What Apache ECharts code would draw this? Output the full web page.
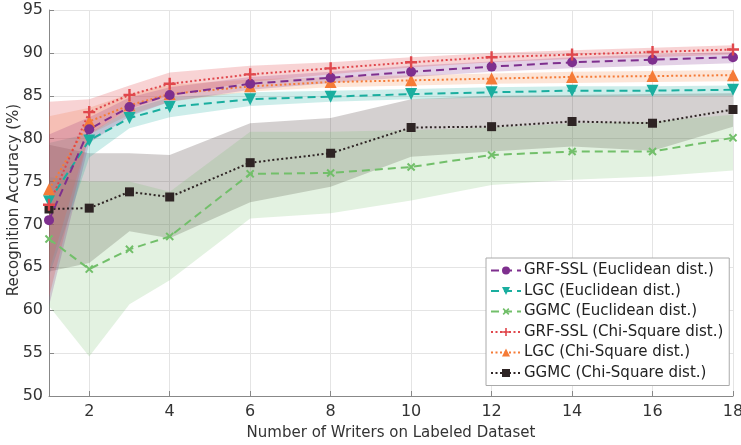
<!DOCTYPE html>
<html>
<head>
<meta charset="utf-8">
<script src="https://cdn.jsdelivr.net/npm/echarts@6/dist/echarts.min.js"></script>
<style>
  html, body { margin: 0; padding: 0; background: #fff; }
  #chart { width: 741px; height: 445px; }
</style>
</head>
<body>
<div id="chart"></div>
<script>
// number of writers (x)
const writers = [1, 2, 3, 4, 6, 8, 10, 12, 14, 16, 18];
const xTicks = [2, 4, 6, 8, 10, 12, 14, 16, 18];

const xTitle = 'Number of Writers on Labeled Dataset';
const yTitle = 'Recognition Accuracy (%)';

const names = [
    'GRF-SSL (Euclidean dist.)',
    'LGC (Euclidean dist.)',
    'GGMC (Euclidean dist.)',
    'GRF-SSL (Chi-Square dist.)',
    'LGC (Chi-Square dist.)',
    'GGMC (Chi-Square dist.)'
];

// mean accuracy
const grfEuc  = [70.5, 81.1, 83.7, 85.1, 86.4, 87.1, 87.8, 88.4, 88.9, 89.2, 89.5];
const lgcEuc  = [72.7, 79.8, 82.4, 83.7, 84.6, 84.9, 85.2, 85.4, 85.6, 85.6, 85.7];
const ggmcEuc = [68.3, 64.8, 67.1, 68.6, 75.9, 76.0, 76.7, 78.1, 78.5, 78.5, 80.1];
const grfChi  = [72.3, 83.1, 85.1, 86.4, 87.5, 88.2, 88.9, 89.5, 89.8, 90.1, 90.4];
const lgcChi  = [74.1, 82.0, 83.9, 85.2, 86.1, 86.6, 86.8, 87.0, 87.2, 87.3, 87.4];
const ggmcChi = [71.8, 71.9, 73.8, 73.2, 77.2, 78.3, 81.3, 81.4, 82.0, 81.8, 83.4];

// shaded bands (lower / upper)
const grfEucLo  = [60.5, 79.5, 82.6, 84.3, 85.7, 86.5, 87.2, 87.8, 88.2, 88.5, 88.8];
const grfEucHi  = [80.5, 82.5, 84.8, 86.0, 87.2, 87.8, 88.5, 89.0, 89.5, 89.8, 90.1];
const lgcEucLo  = [64.0, 77.8, 81.2, 82.5, 83.8, 84.3, 84.6, 84.8, 84.9, 85.0, 85.0];
const lgcEucHi  = [79.5, 80.6, 83.4, 84.8, 85.4, 85.6, 85.8, 86.0, 86.1, 86.1, 86.2];
const ggmcEucLo = [60.5, 54.6, 60.7, 63.5, 70.7, 71.3, 72.8, 74.6, 75.2, 75.6, 76.3];
const ggmcEucHi = [75.5, 75.0, 75.0, 73.8, 80.8, 80.8, 81.0, 81.3, 81.8, 82.0, 82.8];
const grfChiLo  = [61.5, 80.5, 83.5, 85.0, 86.6, 87.5, 88.3, 88.9, 89.3, 89.5, 89.8];
const grfChiHi  = [84.3, 84.6, 86.2, 87.7, 88.5, 88.9, 89.5, 90.0, 90.3, 90.6, 90.9];
const lgcChiLo  = [64.5, 80.5, 82.8, 84.3, 85.5, 86.0, 86.2, 86.4, 86.5, 86.6, 86.7];
const lgcChiHi  = [82.6, 83.6, 85.2, 86.3, 86.9, 87.2, 87.4, 87.6, 87.8, 87.9, 88.0];
const ggmcChiLo = [64.5, 65.5, 69.2, 68.4, 72.6, 74.4, 77.9, 78.5, 79.1, 78.6, 81.4];
const ggmcChiHi = [79.3, 78.3, 78.3, 78.1, 81.8, 82.4, 84.6, 85.0, 85.1, 85.2, 85.3];

const colors = ['#7E2F8E', '#1AAE9F', '#72BF6A', '#E0474C', '#F57B37', '#2E2424'];
const bandColors = [
    'rgba(126,47,142,0.22)',
    'rgba(26,174,159,0.22)',
    'rgba(114,191,106,0.20)',
    'rgba(224,71,76,0.24)',
    'rgba(245,123,55,0.20)',
    'rgba(60,40,40,0.22)'
];

const PLUS = 'path://M4,0H6V4H10V6H6V10H4V6H0V4H4Z';

function pairs(vals) {
    return writers.map((x, i) => [x, vals[i]]);
}

// shaded band drawn as one polygon through the axis scales
function bandSeries(idx, lo, hi) {
    return {
        type: 'custom',
        name: 'band' + idx,
        silent: true,
        z: 1,
        animation: false,
        data: writers.map((x, i) => [x, lo[i], hi[i]]),
        encode: { x: 0, y: [1, 2] },
        renderItem: function (params, api) {
            if (params.dataIndex !== 0) return null;
            const pts = [];
            for (let i = 0; i < writers.length; i++) pts.push(api.coord([writers[i], hi[i]]));
            for (let i = writers.length - 1; i >= 0; i--) pts.push(api.coord([writers[i], lo[i]]));
            return {
                type: 'polygon',
                shape: { points: pts },
                style: { fill: bandColors[idx], stroke: 'none' }
            };
        }
    };
}

function lineSeries(idx, vals, dash, symbol, size, rotate) {
    return {
        name: names[idx],
        type: 'line',
        data: pairs(vals),
        symbol: symbol,
        symbolSize: size,
        symbolRotate: rotate || 0,
        showAllSymbol: true,
        z: 5,
        animation: false,
        itemStyle: { color: colors[idx] },
        lineStyle: { color: colors[idx], width: 2, type: dash }
    };
}

const DASH = [8, 5];
const DOT = [2, 2.5];

const series = [
    bandSeries(5, ggmcChiLo, ggmcChiHi),
    bandSeries(2, ggmcEucLo, ggmcEucHi),
    bandSeries(1, lgcEucLo, lgcEucHi),
    bandSeries(4, lgcChiLo, lgcChiHi),
    bandSeries(0, grfEucLo, grfEucHi),
    bandSeries(3, grfChiLo, grfChiHi),
    lineSeries(2, ggmcEuc, DASH, PLUS, 10, 45),
    lineSeries(5, ggmcChi, DOT, 'rect', 9),
    lineSeries(1, lgcEuc, DASH, 'triangle', 12, 180),
    lineSeries(4, lgcChi, DOT, 'triangle', 12),
    lineSeries(0, grfEuc, DASH, 'circle', 10),
    lineSeries(3, grfChi, DOT, PLUS, 12)
];

const chart = echarts.init(document.getElementById('chart'));
chart.setOption({
    backgroundColor: '#fff',
    textStyle: { fontFamily: 'DejaVu Sans' },
    grid: { left: 49, right: 8, top: 10, bottom: 49, containLabel: false, outerBoundsMode: 'none' },
    // axis titles placed as plain text so they sit where the reference has them
    graphic: [
        {
            type: 'text', x: 391, y: 433,
            style: { text: xTitle, fontSize: 15, fontFamily: 'DejaVu Sans', fill: '#333', align: 'center', verticalAlign: 'middle' }
        },
        {
            type: 'text', x: 14, y: 200, rotation: Math.PI / 2,
            style: { text: yTitle, fontSize: 15, fontFamily: 'DejaVu Sans', fill: '#333', align: 'center', verticalAlign: 'middle' }
        }
    ],
    legend: {
        data: names,
        orient: 'vertical',
        left: 486,
        top: 258,
        padding: [5, 6, 5, 4],
        itemWidth: 30,
        itemHeight: 10,
        itemGap: 5.5,
        backgroundColor: '#fff',
        borderColor: '#aaa',
        borderWidth: 1,
        borderRadius: 0,
        textStyle: { fontSize: 15, color: '#222', fontFamily: 'DejaVu Sans', padding: [0, 0, 0, -2] }
    },
    xAxis: {
        type: 'value',
        min: 1,
        max: 18,
        axisLine: { onZero: false, lineStyle: { color: '#888' } },
        axisTick: { inside: true, length: 5, customValues: xTicks, lineStyle: { color: '#888' } },
        axisLabel: { customValues: xTicks, fontSize: 16, color: '#333', margin: 8 },
        splitLine: { show: true, lineStyle: { color: '#e4e4e4' } }
    },
    yAxis: {
        type: 'value',
        min: 50,
        max: 95,
        interval: 5,
        axisLine: { show: true, lineStyle: { color: '#888' } },
        axisTick: { show: true, inside: true, length: 5, lineStyle: { color: '#888' } },
        axisLabel: { fontSize: 16, color: '#333', margin: 6 },
        splitLine: { show: true, lineStyle: { color: '#e4e4e4' } }
    },
    series: series
});
</script>
</body>
</html>
